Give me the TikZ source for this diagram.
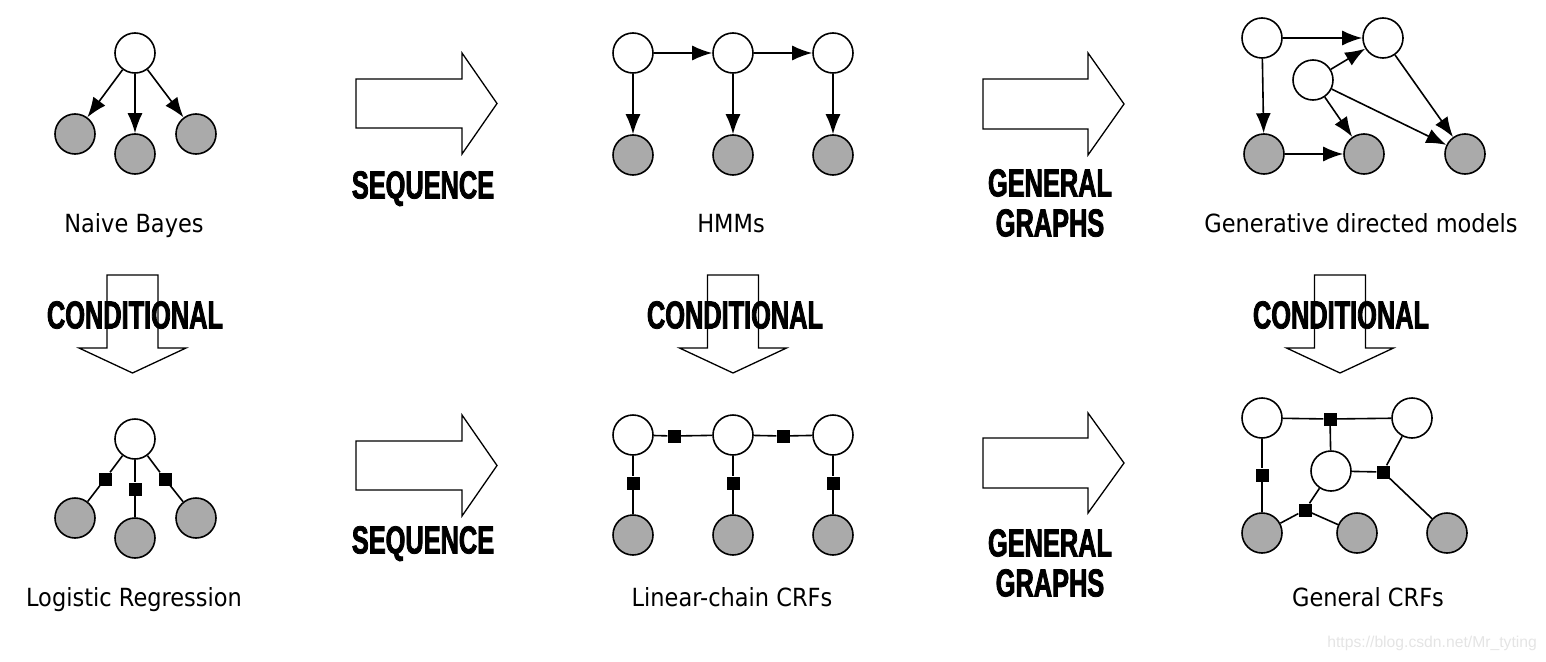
\documentclass[tikz,border=0pt]{standalone}
\usepackage{fontspec}
\usetikzlibrary{arrows.meta}
\newfontfamily\etiquettefont{DejaVu Sans}[FakeStretch=0.9]
\newfontfamily\motclefont{Liberation Sans Bold}[FakeStretch=0.65,FakeBold=2]
\newfontfamily\filigranefont{Liberation Sans}
\definecolor{grisobs}{RGB}{170,170,170}
\definecolor{grisfiligrane}{RGB}{228,228,228}
\begin{document}
\begin{tikzpicture}[x=1pt,y=-1pt]
% Styles
\tikzstyle{fleche}=[-{Latex[length=20pt,width=15pt]},line width=1.6pt]
\tikzstyle{lien}=[line width=1.6pt]
\tikzstyle{cache}=[draw,line width=1.6pt,fill=white,circle,minimum size=40pt,inner sep=0pt]
\tikzstyle{observe}=[cache,fill=grisobs]
\tikzstyle{facteur}=[fill=black,rectangle,minimum size=13pt,inner sep=0pt]
\tikzstyle{grandefleche}=[draw,fill=white,line width=1.3pt,line join=miter]
\tikzstyle{titre}=[font=\etiquettefont\fontsize{25}{30}\selectfont,anchor=base,inner sep=0pt]
\tikzstyle{motcle}=[font=\motclefont\fontsize{39}{40}\selectfont,anchor=north,inner sep=0pt,align=center]
\useasboundingbox (0,0) rectangle (1546,661);
% Grandes fleches
\draw[grandefleche] (356,79) -- (462,79) -- (462,53) -- (497,103.5) -- (462,154) -- (462,128) -- (356,128) -- cycle;
\draw[grandefleche] (983,79) -- (1088,79) -- (1088,53) -- (1124,104) -- (1088,155) -- (1088,129) -- (983,129) -- cycle;
\draw[grandefleche] (356,441) -- (462,441) -- (462,415) -- (497,465.5) -- (462,516) -- (462,490) -- (356,490) -- cycle;
\draw[grandefleche] (983,438) -- (1088,438) -- (1088,413) -- (1124,463) -- (1088,513) -- (1088,488) -- (983,488) -- cycle;
\draw[grandefleche] (107,275) -- (158,275) -- (158,348) -- (186,348) -- (132.5,373) -- (79,348) -- (107,348) -- cycle;
\draw[grandefleche] (707.5,275) -- (758.5,275) -- (758.5,348) -- (786.5,348) -- (733,373) -- (679.5,348) -- (707.5,348) -- cycle;
\draw[grandefleche] (1314.5,275) -- (1365.5,275) -- (1365.5,348) -- (1393.5,348) -- (1340,373) -- (1286.5,348) -- (1314.5,348) -- cycle;
% Mots cles
\node[motcle] (seqA) at (423,171) {SEQUENCE};
\node[motcle] (seqB) at (423,526) {SEQUENCE};
\node[motcle] (genA) at (1050,169) {GENERAL\\GRAPHS};
\node[motcle] (genB) at (1050,529) {GENERAL\\GRAPHS};
\node[motcle] (condA) at (135,301) {CONDITIONAL};
\node[motcle] (condB) at (735,301) {CONDITIONAL};
\node[motcle] (condC) at (1341,301) {CONDITIONAL};
% Noeuds : Naive Bayes
\node[cache] (NB) at (135,53) {};
\node[observe] (NBa) at (75,134) {};
\node[observe] (NBb) at (135,154) {};
\node[observe] (NBc) at (196,134) {};
% Noeuds : HMMs
\node[cache] (H1) at (633,53) {};
\node[cache] (H2) at (733,53) {};
\node[cache] (H3) at (833,53) {};
\node[observe] (H1o) at (633,155) {};
\node[observe] (H2o) at (733,155) {};
\node[observe] (H3o) at (833,155) {};
% Noeuds : modeles generatifs
\node[cache] (GA) at (1262,38) {};
\node[cache] (GB) at (1383,38) {};
\node[cache] (GC) at (1313,80) {};
\node[observe] (GD) at (1264,154) {};
\node[observe] (GE) at (1364,154) {};
\node[observe] (GF) at (1465,154) {};
% Noeuds : regression logistique
\node[cache] (LR) at (135,439) {};
\node[observe] (LRa) at (75,518) {};
\node[observe] (LRb) at (135,538) {};
\node[observe] (LRc) at (196,518) {};
\node[facteur] (LRfa) at (105,479) {};
\node[facteur] (LRfb) at (135,489) {};
\node[facteur] (LRfc) at (165,479) {};
% Noeuds : CRF chaine lineaire
\node[cache] (C1) at (633,435) {};
\node[cache] (C2) at (733,435) {};
\node[cache] (C3) at (833,435) {};
\node[observe] (C1o) at (633,535) {};
\node[observe] (C2o) at (733,535) {};
\node[observe] (C3o) at (833,535) {};
\node[facteur] (Ch1) at (674,436) {};
\node[facteur] (Ch2) at (783,436) {};
\node[facteur] (Cv1) at (633,483) {};
\node[facteur] (Cv2) at (733,483) {};
\node[facteur] (Cv3) at (833,483) {};
% Noeuds : CRF general
\node[cache] (Ka) at (1262,418) {};
\node[cache] (Kb) at (1412,418) {};
\node[cache] (Kc) at (1331,471) {};
\node[observe] (Kd) at (1262,533) {};
\node[observe] (Ke) at (1357,533) {};
\node[observe] (Kf) at (1447,533) {};
\node[facteur] (Kf1) at (1330,419) {};
\node[facteur] (Kf2) at (1262,475) {};
\node[facteur] (Kf3) at (1383,472) {};
\node[facteur] (Kf4) at (1305,510) {};
% Etiquettes
\node[titre] (tNB) at (134,232) {Naive Bayes};
\node[titre] (tH) at (731,232) {HMMs};
\node[titre] (tG) at (1361,232) {Generative directed models};
\node[titre] (tLR) at (134,606) {Logistic Regression};
\node[titre] (tC) at (732,606) {Linear-chain CRFs};
\node[titre] (tK) at (1368,606) {General CRFs};
\node[font=\filigranefont\fontsize{15.7}{18}\selectfont,text=grisfiligrane,anchor=east,inner sep=0pt] (filigrane) at (1537,643) {https://blog.csdn.net/Mr\_tyting};
% Arcs
\draw[fleche] (NB)--(NBa);
\draw[fleche] (NB)--(NBb);
\draw[fleche] (NB)--(NBc);
\draw[fleche] (H1)--(H2);
\draw[fleche] (H2)--(H3);
\draw[fleche] (H1)--(H1o);
\draw[fleche] (H2)--(H2o);
\draw[fleche] (H3)--(H3o);
\draw[fleche] (GA)--(GB);
\draw[fleche] (GA)--(GD);
\draw[fleche] (GC)--(GB);
\draw[fleche] (GC)--(GE);
\draw[fleche] (GC)--(GF);
\draw[fleche] (GB)--(GF);
\draw[fleche] (GD)--(GE);
% Liens
\draw[lien] (LR)--(LRfa)--(LRa);
\draw[lien] (LR)--(LRfb)--(LRb);
\draw[lien] (LR)--(LRfc)--(LRc);
\draw[lien] (C1)--(Ch1)--(C2)--(Ch2)--(C3);
\draw[lien] (C1)--(Cv1)--(C1o);
\draw[lien] (C2)--(Cv2)--(C2o);
\draw[lien] (C3)--(Cv3)--(C3o);
\draw[lien] (Ka)--(Kf1)--(Kb);
\draw[lien] (Kf1)--(Kc);
\draw[lien] (Ka)--(Kf2)--(Kd);
\draw[lien] (Kc)--(Kf3)--(Kb);
\draw[lien] (Kf3)--(Kf);
\draw[lien] (Kc)--(Kf4)--(Kd);
\draw[lien] (Kf4)--(Ke);
\end{tikzpicture}
\end{document}
